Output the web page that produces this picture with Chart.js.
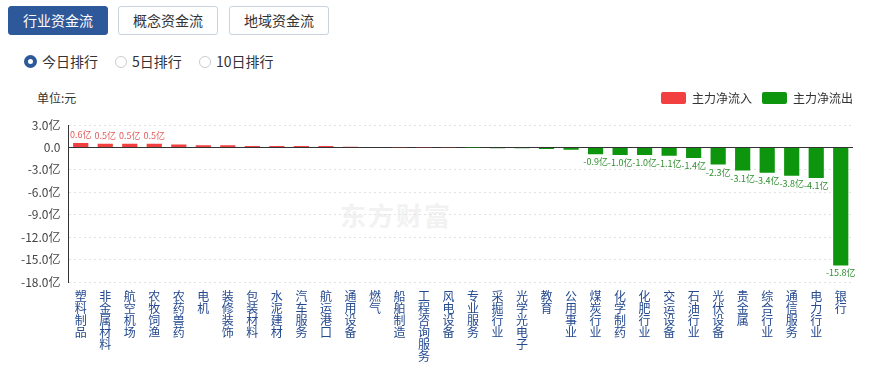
<!DOCTYPE html>
<html>
<head>
<meta charset="utf-8">
<script src="https://cdn.jsdelivr.net/npm/chart.js@4.4.1/dist/chart.umd.min.js"></script>
<style>
  body { margin: 0; width: 873px; height: 368px; background: #fff; position: relative; overflow: hidden;
         font-family: "Noto Sans CJK SC", "Noto Sans", sans-serif; color: #333; }
  .tab { position: absolute; top: 6px; height: 29px; width: 100px; box-sizing: border-box; border: 1px solid #c9d3e0;
         border-radius: 3px; font-size: 14px; line-height: 27px; text-align: center; background: #fff; color: #333; }
  .tab.on { background: #2d5899; border-color: #2d5899; color: #fff; }
  .radio { position: absolute; top: 52px; font-size: 14px; line-height: 18px; }
  .radio i { display: inline-block; width: 10px; height: 10px; border: 1px solid #ccc; border-radius: 50%;
             vertical-align: -1px; margin-right: 5px; box-sizing: content-box; }
  .radio i.on { width: 5px; height: 5px; border: 4px solid #2d5899; }
  #unit { position: absolute; left: 37px; top: 89px; font-size: 12px; }
  #mark { position: absolute; left: 340px; top: 196px; font-size: 26px; font-weight: bold; color: #f2f2f2; letter-spacing: 2px; }
  #wrap { position: absolute; left: 0; top: 82px; width: 873px; height: 286px; }
</style>
</head>
<body>
<div class="tab on" style="left:8px">行业资金流</div>
<div class="tab" style="left:118px">概念资金流</div>
<div class="tab" style="left:229px">地域资金流</div>
<div class="radio" style="left:24px"><i class="on"></i>今日排行</div>
<div class="radio" style="left:115px"><i></i>5日排行</div>
<div class="radio" style="left:199px"><i></i>10日排行</div>
<div id="unit">单位:元</div>
<div id="mark">东方财富</div>
<div id="wrap"><canvas id="myChart"></canvas></div>
<script>
// industries, sorted by main net flow (亿元)
const categories = [
  "塑料制品", "非金属材料", "航空机场", "农牧饲渔", "农药兽药", "电机", "装修装饰", "包装材料",
  "水泥建材", "汽车服务", "航运港口", "通用设备", "燃气", "船舶制造", "工程咨询服务", "风电设备",
  "专业服务", "采掘行业", "光学光电子", "教育", "公用事业", "煤炭行业", "化学制药", "化肥行业",
  "交运设备", "石油行业", "光伏设备", "贵金属", "综合行业", "通信服务", "电力行业", "银行"
];
const netFlow = [
  0.6, 0.5, 0.5, 0.5, 0.4, 0.3, 0.3, 0.2,
  0.2, 0.2, 0.2, 0.1, 0.05, 0.04, 0.03, 0.02,
  -0.02, -0.1, -0.1, -0.2, -0.3, -0.9, -1.0, -1.0,
  -1.1, -1.4, -2.3, -3.1, -3.4, -3.8, -4.1, -15.8
];
const yTicks = [3, 0, -3, -6, -9, -12, -15, -18];

const inflow = netFlow.map(v => (v > 0 ? v : null));
const outflow = netFlow.map(v => (v < 0 ? v : null));

const RED = "#f23f3f";
const GREEN = "#0e950e";

// value labels for the larger bars
const valueLabels = {
  id: "valueLabels",
  afterDatasetsDraw(chart) {
    const ctx = chart.ctx;
    ctx.save();
    ctx.font = "9px 'Noto Sans CJK SC'";
    ctx.textAlign = "center";
    chart.data.datasets.forEach((ds, i) => {
      chart.getDatasetMeta(i).data.forEach((bar, j) => {
        const v = ds.data[j];
        if (v == null || Math.abs(v) < 0.5) return;
        if (v > 0) {
          ctx.fillStyle = "#e25a5a";
          ctx.textBaseline = "bottom";
          ctx.fillText(v.toFixed(1) + "亿", bar.x, bar.y - 4);
        } else {
          ctx.fillStyle = "#2f8f2f";
          ctx.textBaseline = "top";
          ctx.fillText(v.toFixed(1) + "亿", bar.x, bar.y + 3);
        }
      });
    });
    ctx.restore();
  }
};

// more room between legend and plot, and push the legend closer to the right edge
const legendGap = {
  id: "legendGap",
  beforeInit(chart) {
    const fit = chart.legend.fit;
    chart.legend.fit = function () {
      fit.bind(chart.legend)();
      this.height += 11;
    };
  },
  afterLayout(chart) {
    chart.legend.right += 10;
  }
};

new Chart(document.getElementById("myChart").getContext("2d"), {
  type: "bar",
  data: {
    labels: categories.map(c => c.split("")),
    datasets: [
      { label: "主力净流入", data: inflow, backgroundColor: RED },
      { label: "主力净流出", data: outflow, backgroundColor: GREEN }
    ]
  },
  options: {
    responsive: true,
    maintainAspectRatio: false,
    animation: false,
    grouped: false,
    barPercentage: 0.62,
    categoryPercentage: 1,
    layout: { padding: { left: 13, right: 20, top: 0, bottom: 6 } },
    plugins: {
      legend: {
        position: "top",
        align: "end",
        labels: {
          boxWidth: 25,
          boxHeight: 12,
          useBorderRadius: true,
          borderRadius: 2,
          padding: 10,
          color: "#333",
          font: { size: 12, family: "Noto Sans CJK SC" }
        }
      },
      tooltip: { enabled: false }
    },
    scales: {
      x: {
        grid: { display: false },
        border: { display: false },
        ticks: {
          autoSkip: false,
          maxRotation: 0,
          padding: 0,
          color: "#24498f",
          font: { size: 12, family: "Noto Sans CJK SC", lineHeight: 1.0 }
        }
      },
      y: {
        min: -18,
        max: 3,
        afterBuildTicks: axis => { axis.ticks = yTicks.map(v => ({ value: v })); },
        grid: {
          drawTicks: false,
          color: c => (c.tick && c.tick.value === 0 ? "#333" : "#e2e2e2"),
          lineWidth: 1
        },
        border: {
          display: true,
          color: "#333",
          dash: c => (c.tick && c.tick.value === 0 ? [] : [2, 3])
        },
        ticks: {
          padding: 8,
          color: "#444",
          font: { size: 12, family: "Noto Sans CJK SC" },
          callback: v => (v === 0 ? "0.0" : v.toFixed(1) + "亿")
        }
      }
    }
  },
  plugins: [valueLabels, legendGap]
});
</script>
</body>
</html>
